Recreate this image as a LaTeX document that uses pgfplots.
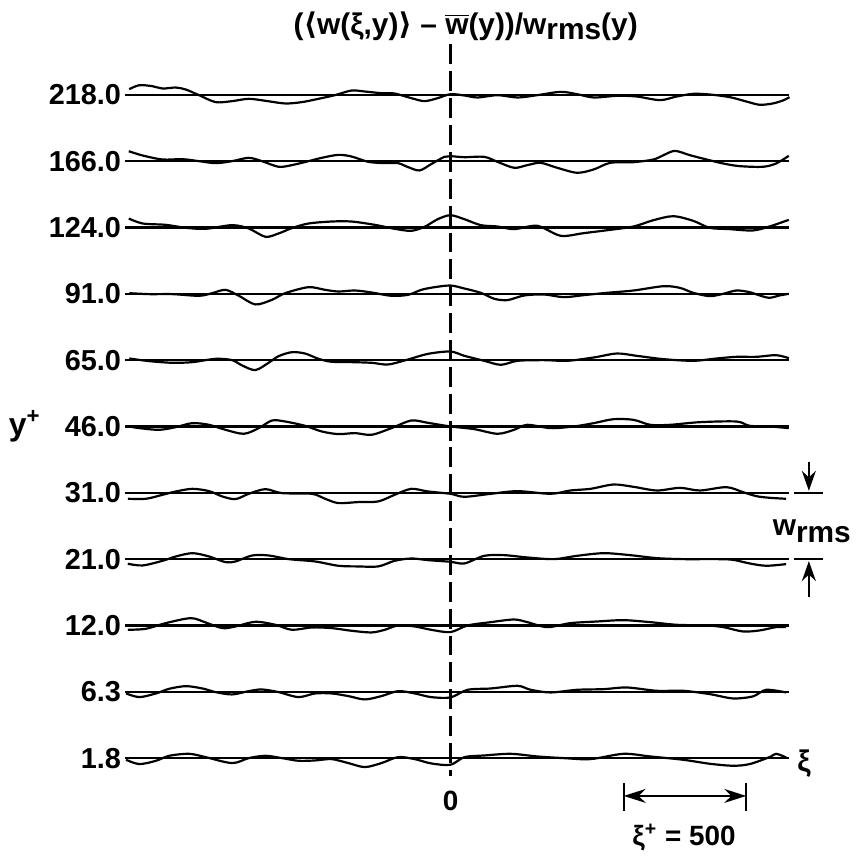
\documentclass[border=0pt]{standalone}
\usepackage{pgfplots}
\pgfplotsset{compat=1.18}
\usetikzlibrary{arrows.meta}
\usepackage{fontspec}
\setmainfont{Liberation Sans}
\newfontfamily\dvs{DejaVu Sans}
\tikzset{lab/.style={font=\fontsize{14.5pt}{16pt}\selectfont\bfseries, inner sep=0pt, anchor=east}}
\pgfplotsset{wave/.style={black, solid, line width=1.1pt, smooth, tension=0.5, mark=none}}

\begin{document}
\begin{tikzpicture}
\begin{axis}[
  x=0.1230pt, y=33.325pt,
  xmin=-1841, xmax=1606, ymin=-1.44, ymax=11.43,
  hide axis, clip=false,
]
\path (axis cs:-1841,-1.44) rectangle (axis cs:1606,11.43);

% zero reference lines, one per wall distance
\pgfplotsinvokeforeach{0,...,10}{
  \draw[line width=1.05pt] (axis cs:-1330,#1) -- (axis cs:1380,#1);
}

% y+ labels
\node[lab] at (axis cs:-1345,10) {218.0};
\node[lab] at (axis cs:-1345,9) {166.0};
\node[lab] at (axis cs:-1345,8) {124.0};
\node[lab] at (axis cs:-1345,7) {91.0};
\node[lab] at (axis cs:-1345,6) {65.0};
\node[lab] at (axis cs:-1345,5) {46.0};
\node[lab] at (axis cs:-1345,4) {31.0};
\node[lab] at (axis cs:-1345,3) {21.0};
\node[lab] at (axis cs:-1345,2) {12.0};
\node[lab] at (axis cs:-1345,1) {6.3};
\node[lab] at (axis cs:-1345,0) {1.8};
\node[font=\fontsize{16pt}{17pt}\selectfont\bfseries] at (axis cs:-1740,5) {y\textsuperscript{+}};

% title
\node[font=\fontsize{15pt}{17pt}\selectfont\bfseries] at (axis cs:61,11.04)
  {({\dvs\char"27E8}w(ξ,y){\dvs\char"27E9} – $\overline{\mbox{w}}$(y))/w\raisebox{-0.35ex}{rms}(y)};

% phase origin
\draw[line width=1.6pt, dash pattern=on 10pt off 3.5pt] (axis cs:0,10.76) -- (axis cs:0,-0.27);
\node[font=\fontsize{14pt}{15pt}\selectfont\bfseries] at (axis cs:0,-0.65) {0};
\node[font=\fontsize{15pt}{17pt}\selectfont\bfseries] at (axis cs:1443,-0.09) {ξ};

% scale bar
\draw[line width=0.9pt] (axis cs:707,-0.375) -- (axis cs:707,-0.795);
\draw[line width=0.9pt] (axis cs:1207,-0.375) -- (axis cs:1207,-0.795);
\draw[line width=0.9pt, {Stealth[length=11pt,width=7pt]}-{Stealth[length=11pt,width=7pt]}] (axis cs:707,-0.57) -- (axis cs:1207,-0.57);
\node[font=\fontsize{14pt}{15pt}\selectfont\bfseries] at (axis cs:953,-1.2) {ξ\textsuperscript{+} = 500};

% w_rms bracket
\draw[line width=1.1pt] (axis cs:1402,4) -- (axis cs:1520,4);
\draw[line width=1.1pt] (axis cs:1402,3) -- (axis cs:1520,3);
\draw[line width=1pt, -{Stealth[length=10pt,width=7pt]}] (axis cs:1463,4.47) -- (axis cs:1463,4.03);
\draw[line width=1pt, -{Stealth[length=10pt,width=7pt]}] (axis cs:1463,2.43) -- (axis cs:1463,2.97);
\node[font=\fontsize{15pt}{16pt}\selectfont\bfseries] at (axis cs:1475,3.42) {w\raisebox{-0.45ex}{rms}};

% 218.0
\addplot[wave] table[x=xi, y expr=\thisrow{w}+10] {
xi w
-1313 0.085
-1272 0.145
-1218 0.13
-1177 0.095
-1123 0.11
-1082 0.08
-1028 -0.005
-960 -0.11
-893 -0.095
-825 -0.06
-757 -0.09
-676 -0.13
-608 -0.11
-540 -0.06
-473 -0.005
-405 0.065
-351 0.05
-283 0.025
-229 0.02
-161 -0.05
-107 -0.095
-53 -0.05
-1 0.01
56 -0.01
110 -0.04
191 -0.005
273 -0.04
354 -0.005
449 0.045
516 0.01
584 -0.04
679 -0.015
760 -0.025
855 -0.08
923 -0.025
991 0.015
1058 0.005
1140 -0.035
1207 -0.10
1262 -0.15
1316 -0.13
1357 -0.085
1384 -0.035
};

% 166.0
\addplot[wave] table[x=xi, y expr=\thisrow{w}+9] {
xi w
-1315 0.15
-1258 0.085
-1177 0.025
-1096 0.03
-1028 0
-960 -0.03
-893 0
-825 0.05
-771 0
-703 -0.085
-649 -0.06
-581 0
-527 0.05
-459 0.095
-405 0.07
-337 -0.01
-269 -0.03
-215 -0.03
-174 -0.09
-127 -0.14
-80 -0.045
-26 0.065
-1 0.075
56 0.06
137 0.065
191 -0.01
259 -0.10
313 -0.06
367 -0.025
435 -0.10
516 -0.175
584 -0.125
652 -0.025
747 -0.015
828 0.025
869 0.09
916 0.155
977 0.09
1045 0.025
1113 -0.035
1180 -0.075
1275 -0.085
1329 -0.035
1381 0.08
};

% 124.0
\addplot[wave] table[x=xi, y expr=\thisrow{w}+8] {
xi w
-1315 0.135
-1258 0.06
-1164 0.04
-1082 -0.005
-1001 -0.02
-893 0.035
-825 -0.015
-757 -0.14
-703 -0.09
-649 -0.01
-581 0.06
-486 0.09
-405 0.09
-310 0.04
-229 -0.02
-161 -0.05
-107 0.01
-53 0.125
-1 0.185
56 0.125
123 0.035
191 0.015
259 -0.025
354 0.025
449 -0.125
544 -0.085
652 -0.035
747 0.015
828 0.11
909 0.17
991 0.10
1058 -0.005
1140 -0.025
1234 -0.045
1302 0.015
1381 0.115
};

% 91.0
\addplot[wave] table[x=xi, y expr=\thisrow{w}+7] {
xi w
-1313 0.01
-1231 -0.005
-1136 -0.005
-1028 -0.03
-974 0.01
-920 0.06
-865 -0.03
-798 -0.16
-730 -0.09
-676 0.01
-581 0.10
-513 0.06
-459 0.035
-391 0.05
-323 0.02
-242 -0.03
-174 -0.015
-120 0.06
-66 0.10
-1 0.125
56 0.08
123 0.015
178 -0.075
232 -0.095
300 -0.025
381 -0.01
462 -0.05
544 -0.02
638 0.015
747 0.05
869 0.115
936 0.09
991 0.015
1058 -0.035
1113 0
1167 0.05
1221 0.025
1262 -0.025
1302 -0.06
1343 -0.025
1381 0
};

% 65.0
\addplot[wave] table[x=xi, y expr=\thisrow{w}+6] {
xi w
-1313 0.025
-1231 -0.015
-1136 -0.04
-1055 -0.03
-960 0.02
-893 0
-852 -0.08
-798 -0.15
-744 -0.04
-703 0.06
-649 0.12
-595 0.10
-540 0.02
-486 -0.025
-405 -0.03
-323 -0.04
-256 -0.065
-174 0.01
-93 0.095
-1 0.13
56 0.065
137 -0.01
205 -0.07
273 -0.01
381 0
476 -0.01
584 0.04
679 0.10
760 0.065
869 0.015
991 -0.01
1086 0.025
1167 0.05
1248 0.05
1329 0.075
1381 0.03
};

% 46.0
\addplot[wave] table[x=xi, y expr=\thisrow{w}+5] {
xi w
-1313 0
-1272 -0.025
-1191 -0.05
-1123 -0.01
-1055 0.05
-987 0.025
-920 -0.05
-845 -0.11
-784 -0.025
-730 0.09
-676 0.075
-595 0.01
-527 -0.075
-459 -0.115
-391 -0.10
-323 -0.125
-242 -0.025
-161 0.09
-93 0.055
-1 0
96 -0.04
191 -0.11
259 -0.05
313 0.025
408 -0.025
503 0
584 0.05
665 0.11
747 0.10
815 0.025
896 0.025
1018 0.065
1167 0.075
1221 0.01
1302 0
1381 -0.025
};

% 31.0
\addplot[wave] table[x=xi, y expr=\thisrow{w}+4] {
xi w
-1319 -0.09
-1245 -0.09
-1177 -0.03
-1123 0.02
-1055 0.06
-987 0.025
-933 -0.055
-879 -0.095
-825 -0.015
-757 0.055
-689 -0.005
-567 -0.015
-513 -0.09
-459 -0.155
-378 -0.14
-296 -0.13
-229 -0.03
-161 0.06
-93 0.02
-1 -0.015
56 -0.06
164 -0.015
273 0.025
408 -0.015
489 0.035
571 0.06
665 0.125
747 0.09
842 0.035
936 0.075
1018 0.035
1126 0.085
1194 0.01
1248 -0.05
1302 -0.075
1370 -0.09
};

% 21.0
\addplot[wave] table[x=xi, y expr=\thisrow{w}+3] {
xi w
-1319 -0.07
-1258 -0.095
-1177 -0.025
-1123 0.04
-1055 0.09
-987 0.04
-920 -0.045
-879 -0.035
-811 0.055
-743 0.055
-662 0
-554 -0.035
-459 -0.10
-378 -0.11
-296 -0.11
-229 -0.025
-161 0.01
-93 -0.015
-1 -0.04
56 -0.065
137 0.05
218 0.06
313 0.025
422 0
516 0.05
625 0.09
733 0.06
842 0.015
950 0
1086 0
1153 -0.01
1221 -0.065
1289 -0.10
1370 -0.075
};

% 12.0
\addplot[wave] table[x=xi, y expr=\thisrow{w}+2] {
xi w
-1319 -0.065
-1245 -0.05
-1164 0.035
-1062 0.11
-1001 0.045
-933 -0.04
-879 -0.015
-798 0.055
-716 0.01
-649 -0.065
-567 -0.03
-486 -0.04
-405 -0.08
-323 -0.105
-269 -0.065
-215 0
-147 -0.015
-80 -0.065
-1 -0.10
69 0
164 0.05
259 0.09
313 0.05
394 -0.025
489 0.035
598 0.06
706 0.08
815 0.05
923 0.01
1045 0
1113 -0.025
1194 -0.09
1262 -0.075
1329 -0.025
1370 -0.025
};

% 6.3
\addplot[wave] table[x=xi, y expr=\thisrow{w}+1] {
xi w
-1326 -0.025
-1272 -0.08
-1204 -0.025
-1150 0.045
-1082 0.085
-1014 0.05
-960 -0.005
-893 -0.04
-825 0.01
-771 0.035
-703 -0.005
-622 -0.08
-554 -0.025
-486 -0.025
-418 -0.065
-351 -0.115
-283 -0.065
-215 0.01
-147 -0.025
-80 -0.08
-1 -0.085
69 0.03
164 0.05
273 0.09
327 0.03
408 -0.01
516 0.03
625 0.04
720 0.065
842 0.015
950 0.015
1058 -0.035
1153 -0.10
1234 -0.07
1289 0.03
1370 -0.01
};

% 1.8
\addplot[wave] table[x=xi, y expr=\thisrow{w}+0] {
xi w
-1326 -0.025
-1272 -0.09
-1204 -0.04
-1150 0.035
-1069 0.065
-1001 0.015
-893 -0.075
-825 0
-757 0.035
-689 0
-622 -0.04
-554 -0.035
-486 -0.015
-418 -0.075
-351 -0.135
-283 -0.075
-215 0.015
-147 -0.015
-80 -0.08
-1 -0.10
56 0.015
137 0.04
245 0.065
354 0.025
462 0
571 -0.015
706 0.065
815 0.025
950 -0.025
1058 -0.085
1153 -0.115
1221 -0.09
1302 0.015
1329 0.065
1370 0.01
};
\end{axis}
\end{tikzpicture}
\end{document}
